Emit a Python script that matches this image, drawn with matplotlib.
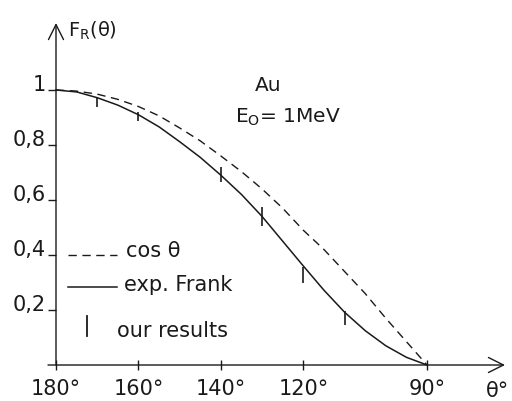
import matplotlib
matplotlib.use("Agg")
import matplotlib.pyplot as plt
from matplotlib.lines import Line2D

# ---- data ----
theta = [180, 175, 170, 165, 160, 155, 150, 145, 140, 135, 130, 125, 120, 115, 110, 105, 100, 95, 90]
cos_curve = [1.0, 0.996, 0.985, 0.966, 0.94, 0.906, 0.862, 0.815, 0.76, 0.703, 0.64, 0.57, 0.49, 0.42, 0.34, 0.26, 0.17, 0.085, 0.0]
frank_curve = [1.0, 0.993, 0.972, 0.945, 0.91, 0.866, 0.812, 0.755, 0.69, 0.62, 0.54, 0.45, 0.36, 0.272, 0.192, 0.125, 0.07, 0.028, 0.0]
our_theta = [170, 160, 140, 130, 120, 110]
our_lo = [0.938, 0.887, 0.665, 0.505, 0.30, 0.145]
our_hi = [0.976, 0.920, 0.720, 0.575, 0.357, 0.196]
xticks = [180, 160, 140, 120, 90]
xticklabels = ["180°", "160°", "140°", "120°", "90°"]
yticks = [0.2, 0.4, 0.6, 0.8, 1.0]
yticklabels = ["0,2", "0,4", "0,6", "0,8", "1"]

W, H = 512, 402
fig = plt.figure(figsize=(W / 100, H / 100), dpi=100)
ax = fig.add_axes([0, 0, 1, 1])

# pixel mapping: theta=180 -> x=56, theta=90 -> x=427 ; v=0 -> y=366, v=1 -> y=91
kx = (427 - 56) / 90.0
ky = 366 - 91
ax.set_xlim(180 + 56 / kx, 180 - (W - 56) / kx)
ax.set_ylim((366 - H) / ky, 366 / ky)

ink = "#1a1a1a"
ax.plot(theta, cos_curve, color=ink, lw=1.0, dashes=(6, 4))
ax.plot(theta, frank_curve, color=ink, lw=1.1)
ax.vlines(our_theta, our_lo, our_hi, color=ink, lw=1.2)

# spines only used to place the ticks; axis lines are drawn as arrows
for s in ["top", "right"]:
    ax.spines[s].set_visible(False)
ax.spines["left"].set_position(("data", 180))
ax.spines["bottom"].set_position(("data", 0))
for s in ["left", "bottom"]:
    ax.spines[s].set_color("none")

ax.set_xticks(xticks)
ax.set_xticklabels(xticklabels)
ax.set_yticks(yticks)
ax.set_yticklabels(yticklabels)
ax.tick_params(axis="x", direction="inout", length=7, width=1.0, color=ink,
               labelsize=15, pad=6, labelcolor=ink)
ax.tick_params(axis="y", direction="out", length=5.5, width=1.0, color=ink,
               labelsize=15, pad=2, labelcolor=ink)
for lab in ax.get_yticklabels():
    lab.set_verticalalignment("baseline")

# axis lines with open arrow heads
arrow = dict(arrowstyle="->,head_length=0.6,head_width=0.3", lw=1.0, color=ink,
             mutation_scale=18, shrinkA=0, shrinkB=0)
ax.annotate("", xy=(180, (366 - 24) / ky), xytext=(180, 0), arrowprops=arrow)
ax.annotate("", xy=(180 - 449 / kx, 0), xytext=(180 + 8 / kx, 0), arrowprops=arrow)


def fx(px):
    return px / W


def fy(py):
    return 1 - py / H


ax.text(fx(68), fy(37), r"F$_\mathrm{R}$(θ)", transform=ax.transAxes, fontsize=14,
        color=ink, va="baseline", ha="left")
ax.text(fx(486), fy(397), "θ°", transform=ax.transAxes, fontsize=15, color=ink,
        va="baseline", ha="left")
ax.text(fx(255), fy(91), "Au", transform=ax.transAxes, fontsize=14.5, color=ink,
        va="baseline", ha="left")
ax.text(fx(235), fy(123), r"E$_\mathrm{O}$= 1MeV", transform=ax.transAxes, fontsize=14.5,
        color=ink, va="baseline", ha="left")

# legend drawn by hand
ax.add_line(Line2D([fx(68), fx(117)], [fy(256), fy(256)], transform=ax.transAxes,
                   color=ink, lw=1.0, dashes=(6, 4)))
ax.add_line(Line2D([fx(68), fx(117)], [fy(288), fy(288)], transform=ax.transAxes,
                   color=ink, lw=1.1))
ax.add_line(Line2D([fx(87), fx(87)], [fy(317), fy(337)], transform=ax.transAxes,
                   color=ink, lw=1.3))
ax.text(fx(126), fy(257), "cos θ", transform=ax.transAxes, fontsize=15, color=ink,
        va="baseline", ha="left")
ax.text(fx(124), fy(291), "exp. Frank", transform=ax.transAxes, fontsize=15, color=ink,
        va="baseline", ha="left")
ax.text(fx(117), fy(337), "our results", transform=ax.transAxes, fontsize=15, color=ink,
        va="baseline", ha="left")

fig.savefig("out.png", dpi=100, facecolor="white")
